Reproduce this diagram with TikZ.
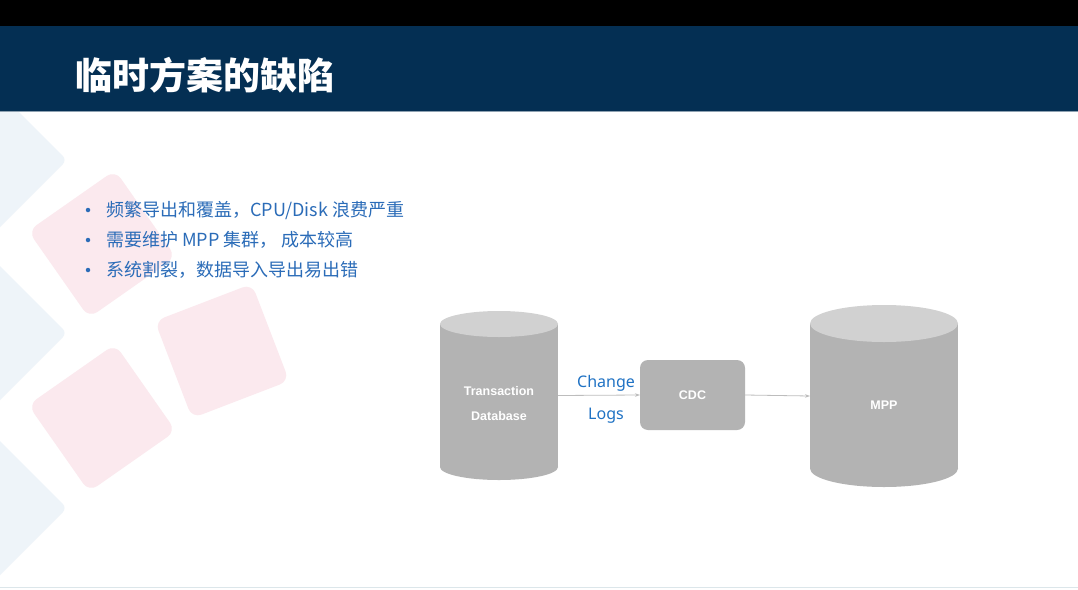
\documentclass[tikz,border=0pt]{standalone}
\usepackage{fontspec}
\setmainfont{Noto Sans}
\newfontfamily\cjk{Noto Sans CJK SC}
\newfontfamily\boxfont{Liberation Sans}
\usetikzlibrary{arrows.meta}
\definecolor{headblue}{HTML}{042F53}
\definecolor{bulletblue}{HTML}{2B6CB8}
\definecolor{labelblue}{HTML}{1F72C4}
\definecolor{cylbody}{HTML}{B3B3B3}
\definecolor{cyltop}{HTML}{D1D1D1}
\definecolor{arrowgray}{HTML}{BDBDBD}
\definecolor{pinkbg}{HTML}{FBE9EE}
\definecolor{bluebg}{HTML}{EEF4F9}
\definecolor{footline}{HTML}{DCE6EA}
\begin{document}
\begin{tikzpicture}[x=1pt,y=-1pt,
  dbbody/.style={fill=cylbody,inner sep=0pt,outer sep=0pt},
  boxtext/.style={font=\boxfont\bfseries\fontsize{12.5}{25}\selectfont,text=white,align=center},
  flow/.style={-{Stealth[length=5pt,width=3.5pt]},draw=arrowgray,line width=0.8pt},
  bullet/.style={anchor=west,text=bulletblue,font=\cjk\fontsize{18}{22}\selectfont,inner sep=0pt},
  bdot/.style={circle,fill=bulletblue,inner sep=0pt,minimum size=4.5pt},
  flowlabel/.style={text=labelblue,font=\fontsize{16}{18}\selectfont}]
\useasboundingbox (0,0) rectangle (1078,589);
\clip (0,0) rectangle (1078,589);
\fill[white] (0,0) rectangle (1078,589);
% background shapes
\fill[bluebg,rounded corners=6pt] (-80,13) -- (67,160) -- (-80,307) -- cycle;
\fill[bluebg,rounded corners=6pt] (-80,186) -- (67,333) -- (-80,480) -- cycle;
\fill[bluebg,rounded corners=6pt] (-80,361) -- (67,508) -- (-80,655) -- cycle;
\begin{scope}[shift={(102,244)},rotate=35]
\fill[pinkbg,rounded corners=10pt] (-53,-53) rectangle (53,53);
\end{scope}
\begin{scope}[shift={(222,351)},rotate=21]
\fill[pinkbg,rounded corners=10pt] (-52,-52) rectangle (52,52);
\end{scope}
\begin{scope}[shift={(102,418)},rotate=35]
\fill[pinkbg,rounded corners=10pt] (-53,-53) rectangle (53,53);
\end{scope}
% header
\fill[black] (0,0) rectangle (1078,26);
\fill[headblue] (0,26) rectangle (1078,111);
\draw[headblue!45,line width=1pt] (0,111.5) -- (1078,111.5);
\node[anchor=west,text=white,font=\cjk\bfseries\fontsize{37}{42}\selectfont] (title) at (72,75) {临时方案的缺陷};
% bullets
\node[bdot] (d1) at (88,210) {};
\node[bullet] (b1) at (106,210) {频繁导出和覆盖，CPU/Disk 浪费严重};
\node[bdot] (d2) at (88,240) {};
\node[bullet] (b2) at (106,240) {需要维护 MPP 集群， 成本较高};
\node[bdot] (d3) at (88,270) {};
\node[bullet] (b3) at (106,270) {系统割裂，数据导入导出易出错};
% transaction database
\node[dbbody,minimum width=118,minimum height=143] (txdb) at (499,395.5) {};
\fill[cylbody] (txdb.south) ellipse[x radius=59pt,y radius=13pt];
\fill[cyltop] (txdb.north) ellipse[x radius=59pt,y radius=13pt];
\node[boxtext] (txdbtext) at (499,404) {Transaction\\Database};
% cdc
\node[dbbody,rounded corners=8pt,minimum width=105,minimum height=70,boxtext] (cdc) at (692.5,395) {CDC};
% mpp
\node[dbbody,minimum width=148,minimum height=145] (mpp) at (884,396) {};
\fill[cylbody] (mpp.south) ellipse[x radius=74pt,y radius=18.5pt];
\fill[cyltop] (mpp.north) ellipse[x radius=74pt,y radius=18.5pt];
\node[boxtext] (mpptext) at (884,405) {MPP};
% arrows
\draw[flow] (txdb.east) -- (cdc.west)
  node[flowlabel,midway,xshift=7pt,yshift=12pt] {Change}
  node[flowlabel,midway,xshift=7pt,yshift=-20pt] {Logs};
\draw[flow] (cdc.east) -- (mpp.west);
% footer
\draw[footline,line width=1pt] (0,587) -- (1078,587);
\end{tikzpicture}
\end{document}
